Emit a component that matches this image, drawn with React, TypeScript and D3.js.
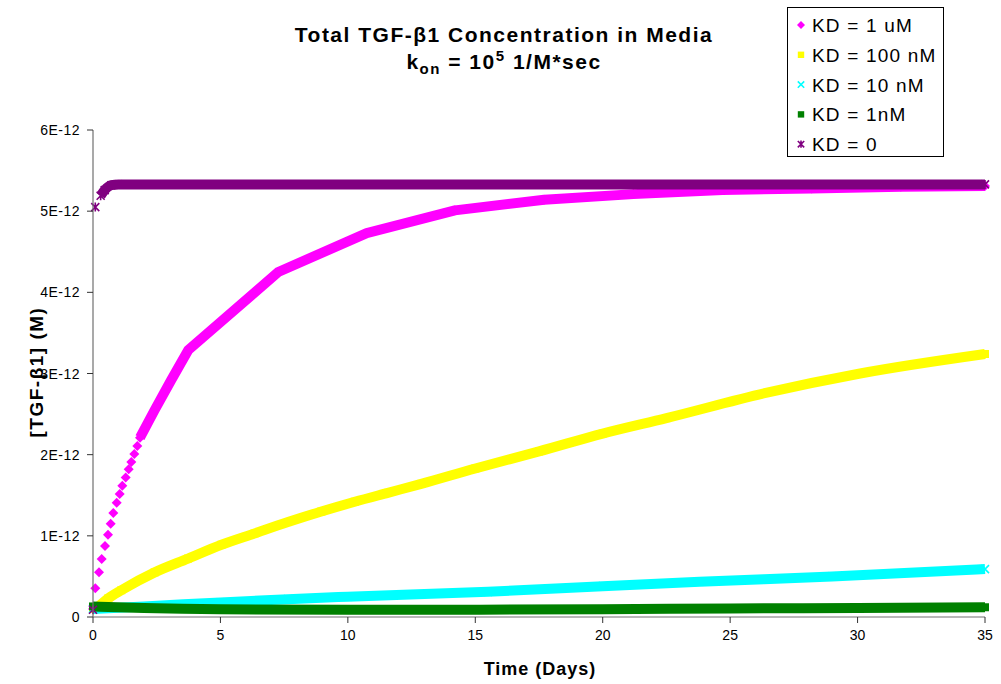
import React, { useEffect, useRef } from 'react';
import * as d3 from 'd3';

// time in days, values in units of 1E-12 M
const timeKd1uM = [0, 0.09, 0.235, 0.341, 0.471, 0.589, 0.694, 0.797, 0.93, 1.048, 1.15, 1.283, 1.401, 1.503, 1.621, 1.739, 1.844, 2.42, 3.07, 3.74, 7.27, 10.74, 14.2, 17.7, 21.2, 24.7, 28.2, 31.7, 35];
const valueKd1uM = [0.1, 0.354, 0.551, 0.715, 0.875, 1.014, 1.15, 1.282, 1.409, 1.515, 1.617, 1.72, 1.819, 1.91, 2.008, 2.107, 2.209, 2.55, 2.92, 3.29, 4.25, 4.73, 5.01, 5.14, 5.21, 5.26, 5.28, 5.3, 5.31];

const timeKd100nM = [0, 0.2, 0.6, 1.11, 2.42, 3.73, 5.04, 6.34, 7.65, 8.96, 10.27, 11.57, 12.88, 15, 17.5, 20, 22.5, 26.4, 30.1, 35];
const valueKd100nM = [0.1, 0.13, 0.23, 0.33, 0.55, 0.72, 0.89, 1.03, 1.17, 1.3, 1.42, 1.53, 1.64, 1.83, 2.04, 2.26, 2.45, 2.76, 3.0, 3.24];

const timeKd10nM = [0, 2, 5, 7.65, 10, 15.5, 20, 23.8, 29, 35];
const valueKd10nM = [0.1, 0.13, 0.18, 0.22, 0.25, 0.31, 0.38, 0.435, 0.5, 0.59];

const timeKd1nM = [0, 2, 5, 10, 15, 20, 25, 30, 35];
const valueKd1nM = [0.13, 0.11, 0.095, 0.09, 0.09, 0.095, 0.105, 0.112, 0.12];

const timeKd0 = [0, 0.09, 0.3, 0.46, 0.72, 1.0, 35];
const valueKd0 = [0.09, 5.05, 5.19, 5.26, 5.32, 5.33, 5.33];

const seriesNames = ['KD = 1 uM', 'KD = 100 nM', 'KD = 10 nM', 'KD = 1nM', 'KD = 0'];
const xTicks = [0, 5, 10, 15, 20, 25, 30, 35];
const yTicks = [0, 1, 2, 3, 4, 5, 6];
const yTickLabels = ['0', '1E-12', '2E-12', '3E-12', '4E-12', '5E-12', '6E-12'];

const W = 1001;
const H = 684;
const FONT = '"Liberation Sans", Arial, sans-serif';

const markerPath = (shape: string) => {
    if (shape === 'diamond') return 'M0,-5L5,0L0,5L-5,0Z';
    if (shape === 'square') return 'M-4,-4H4V4H-4Z';
    if (shape === 'x') return 'M-4,-4L4,4M-4,4L4,-4';
    return 'M-4,-4L4,4M-4,4L4,-4M0,-4.5V4.5';
};

const App = () => {
    const ref = useRef<SVGSVGElement>(null);

    useEffect(() => {
        const svg = d3.select(ref.current);
        svg.selectAll('*').remove();

        const x = d3.scaleLinear().domain([0, 35]).range([93, 985]);
        const y = d3.scaleLinear().domain([0, 6]).range([617, 130]);

        const series = [
            { name: seriesNames[0], t: timeKd1uM, v: valueKd1uM, color: '#FF00FF', shape: 'diamond', bandFrom: 1.84 },
            { name: seriesNames[1], t: timeKd100nM, v: valueKd100nM, color: '#FFFF00', shape: 'square', bandFrom: 0 },
            { name: seriesNames[2], t: timeKd10nM, v: valueKd10nM, color: '#00FFFF', shape: 'x', bandFrom: 0 },
            { name: seriesNames[3], t: timeKd1nM, v: valueKd1nM, color: '#008000', shape: 'square', bandFrom: 0 },
            { name: seriesNames[4], t: timeKd0, v: valueKd0, color: '#800080', shape: 'star', bandFrom: 0.3 },
        ];

        // title
        svg.append('text')
            .attr('x', 504).attr('y', 42)
            .attr('text-anchor', 'middle')
            .style('font-family', FONT).style('font-weight', 'bold').style('font-size', '21px')
            .style('letter-spacing', '1.5px')
            .text('Total TGF-β1 Concentration in Media');
        const sub = svg.append('text')
            .attr('x', 504).attr('y', 69)
            .attr('text-anchor', 'middle')
            .style('font-family', FONT).style('font-weight', 'bold').style('font-size', '21px')
            .style('letter-spacing', '1.5px');
        sub.append('tspan').text('k');
        sub.append('tspan').attr('dy', 5).style('font-size', '15px').text('on');
        sub.append('tspan').attr('dy', -5).text(' = 10');
        sub.append('tspan').attr('dy', -8).style('font-size', '15px').text('5');
        sub.append('tspan').attr('dy', 8).text(' 1/M*sec');

        // series
        series.forEach(s => {
            const pts = s.t.map((t, i) => ({ t, v: s.v[i] }));
            const band = pts.filter(p => p.t >= s.bandFrom);
            const line = d3.line<{ t: number; v: number }>()
                .curve(d3.curveMonotoneX)
                .x(d => x(d.t)).y(d => y(d.v));
            svg.append('path')
                .datum(band)
                .attr('d', s.shape === 'diamond' ? line.curve(d3.curveLinear)(band) : line(band))
                .attr('fill', 'none')
                .attr('stroke', s.color)
                .attr('stroke-width', 10)
                .attr('stroke-linejoin', 'round');
            const filled = s.shape === 'diamond' || s.shape === 'square';
            svg.append('g').selectAll('path')
                .data(pts)
                .enter().append('path')
                .attr('transform', d => `translate(${x(d.t)},${y(d.v)})`)
                .attr('d', markerPath(s.shape))
                .attr('fill', filled ? s.color : 'none')
                .attr('stroke', s.color)
                .attr('stroke-width', filled ? 0 : 1.6);
        });

        // axes
        const axisColor = '#707070';
        svg.append('line').attr('x1', 93).attr('x2', 93).attr('y1', 130).attr('y2', 617)
            .attr('stroke', axisColor).attr('stroke-width', 1.2);
        svg.append('line').attr('x1', 93).attr('x2', 985).attr('y1', 617).attr('y2', 617)
            .attr('stroke', axisColor).attr('stroke-width', 1.2);

        svg.selectAll('.ytick').data(yTicks).enter().append('line')
            .attr('x1', 87).attr('x2', 93).attr('y1', d => y(d)).attr('y2', d => y(d))
            .attr('stroke', '#333').attr('stroke-width', 1);
        svg.selectAll('.ylab').data(yTicks).enter().append('text')
            .attr('x', 80).attr('y', d => y(d) + 5)
            .attr('text-anchor', 'end')
            .style('font-family', FONT).style('font-size', '14px')
            .style('letter-spacing', '0.5px')
            .text((d, i) => yTickLabels[i]);

        svg.selectAll('.xtick').data(xTicks).enter().append('line')
            .attr('x1', d => x(d)).attr('x2', d => x(d)).attr('y1', 617).attr('y2', 623)
            .attr('stroke', '#333').attr('stroke-width', 1);
        svg.selectAll('.xlab').data(xTicks).enter().append('text')
            .attr('x', d => x(d)).attr('y', 640)
            .attr('text-anchor', 'middle')
            .style('font-family', FONT).style('font-size', '14px')
            .text(d => String(d));

        svg.append('text')
            .attr('x', 540).attr('y', 675)
            .attr('text-anchor', 'middle')
            .style('font-family', FONT).style('font-weight', 'bold').style('font-size', '18px')
            .style('letter-spacing', '1px')
            .text('Time (Days)');
        svg.append('text')
            .attr('transform', 'translate(37,372) rotate(-90)')
            .attr('text-anchor', 'middle')
            .attr('dy', 6)
            .style('font-family', FONT).style('font-weight', 'bold').style('font-size', '19px')
            .style('letter-spacing', '1.5px')
            .text('[TGF-β1] (M)');

        // legend
        const legend = svg.append('g');
        legend.append('rect')
            .attr('x', 787.5).attr('y', 7.5).attr('width', 156).attr('height', 149)
            .attr('fill', 'white').attr('stroke', 'black').attr('stroke-width', 1);
        series.forEach((s, i) => {
            const cy = 25 + i * 29.8;
            const filled = s.shape === 'diamond' || s.shape === 'square';
            legend.append('path')
                .attr('transform', `translate(801,${cy}) scale(0.8)`)
                .attr('d', markerPath(s.shape))
                .attr('fill', filled ? s.color : 'none')
                .attr('stroke', s.color)
                .attr('stroke-width', filled ? 0 : 2);
            legend.append('text')
                .attr('x', 812).attr('y', cy + 7)
                .style('font-family', FONT).style('font-size', '19px')
                .style('letter-spacing', '1.2px')
                .text(s.name);
        });
    }, []);

    return (
        <div>
            <style>{'body{margin:0;background:#fff}'}</style>
            <svg ref={ref} width={W} height={H} style={{ display: 'block' }} />
        </div>
    );
};

export default App;
